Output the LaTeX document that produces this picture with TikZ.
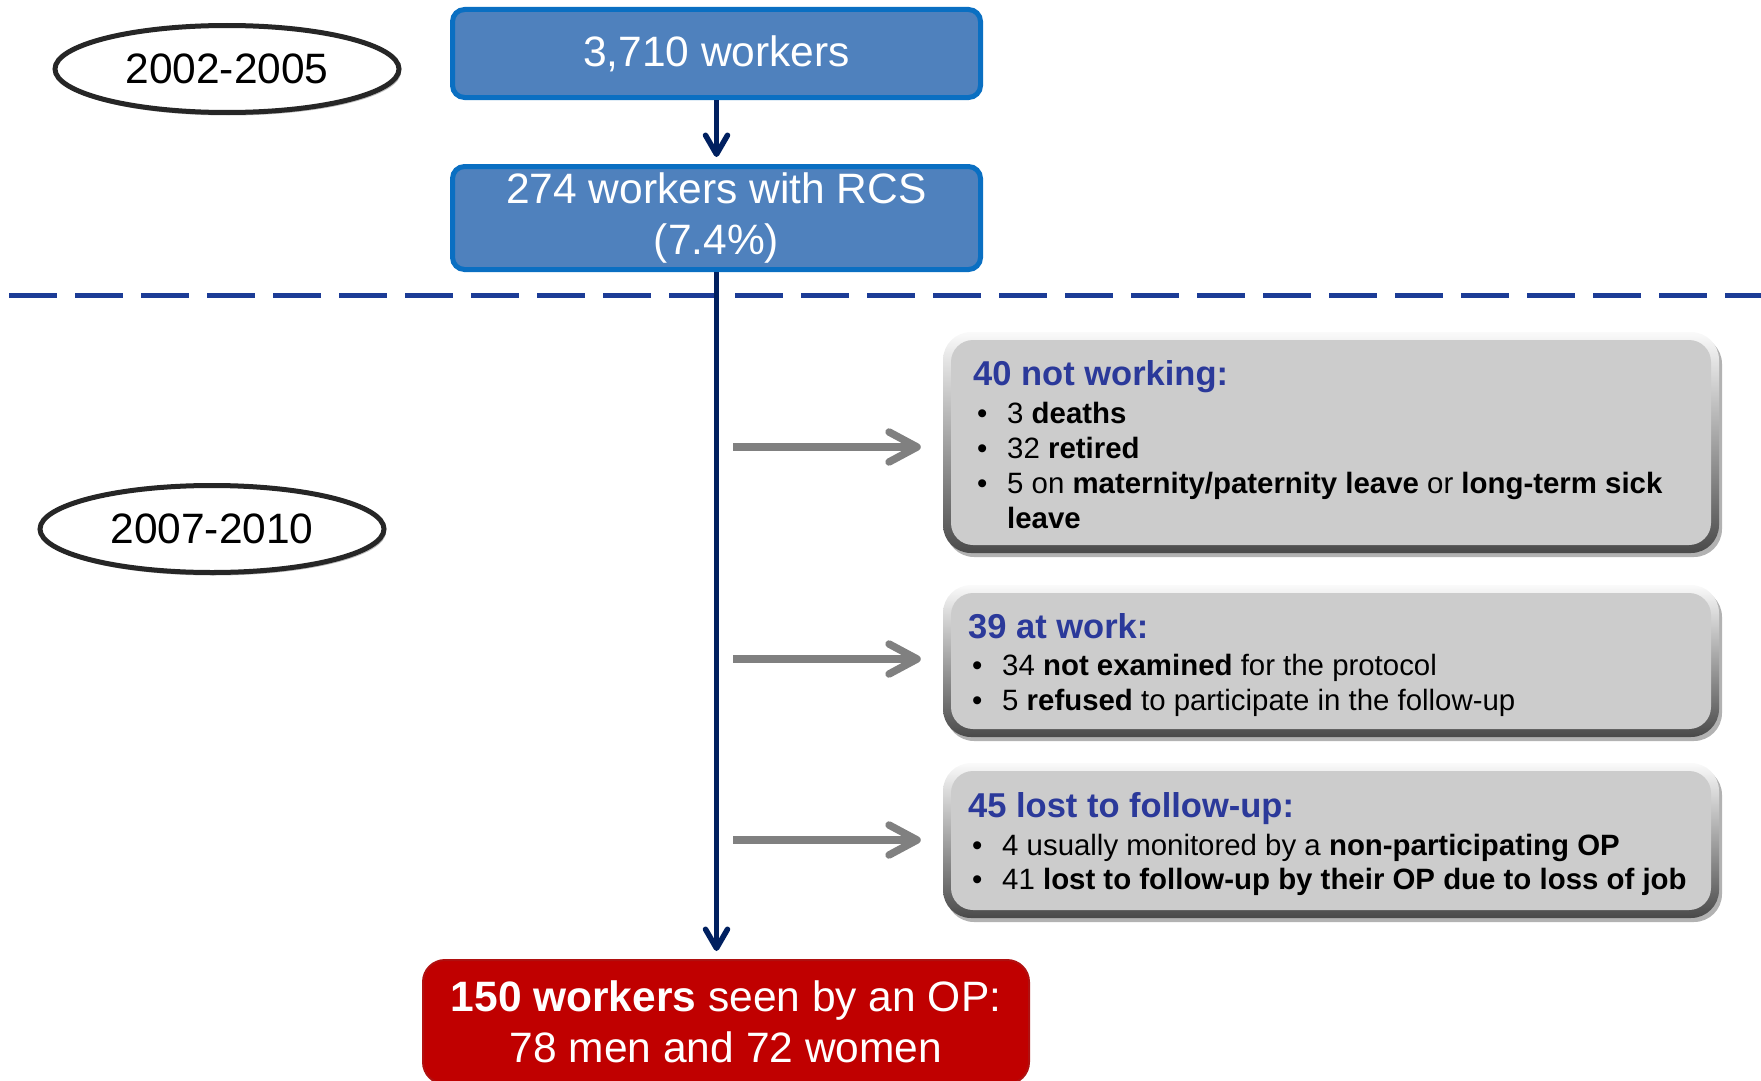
\documentclass[tikz,border=0pt]{standalone}
\usepackage{fontspec}
\setmainfont{Liberation Sans}
\usetikzlibrary{arrows.meta,shapes.geometric,shadows,calc}
\definecolor{blueFill}{HTML}{4F81BD}
\definecolor{blueDraw}{HTML}{0A6FC2}
\definecolor{navy}{HTML}{002060}
\definecolor{dashBlue}{RGB}{28,60,150}
\definecolor{titleBlue}{RGB}{43,57,154}
\definecolor{grayHi}{HTML}{FAFAFA}
\definecolor{grayLo}{HTML}{4A4A4A}
\definecolor{grayFace}{HTML}{CCCCCC}
\definecolor{arrGray}{HTML}{808080}
\definecolor{redFill}{HTML}{C00000}
\definecolor{redDraw}{HTML}{B01010}
\begin{document}
\begin{tikzpicture}[x=1pt,y=-1pt,
  bigfont/.style={font=\fontsize{42.5}{51}\selectfont},
  yearell/.style={ellipse, draw=black!85, line width=5pt, fill=white, minimum width=344pt, minimum height=87pt, inner sep=0pt, bigfont,
    drop shadow={shadow xshift=2pt, shadow yshift=-3pt, fill=black!45, opacity=0.6}},
  bluebox/.style={rectangle, rounded corners=12pt, draw=blueDraw, line width=5pt, fill=blueFill, text=white, minimum width=528pt, inner sep=0pt, align=center, bigfont},
  graybox/.style={rectangle, rounded corners=28pt, top color=grayHi, bottom color=grayLo, minimum width=776pt, inner sep=0pt,
    drop shadow={shadow xshift=3pt, shadow yshift=-4pt, fill=black, opacity=0.3},
    path picture={\fill[grayFace, rounded corners=22pt] ([shift={(8pt,-8pt)}]path picture bounding box.north west) rectangle ([shift={(-8pt,8pt)}]path picture bounding box.south east);}},
  redbox/.style={rectangle, rounded corners=22pt, draw=redDraw, line width=2pt, fill=redFill, text=white, minimum width=606pt, inner sep=0pt, align=center, bigfont},
  gtitle/.style={anchor=base west, inner sep=0pt, text=titleBlue, font=\fontsize{34.5}{40}\selectfont\bfseries},
  gline/.style={anchor=base west, inner sep=0pt, font=\fontsize{29.4}{35}\selectfont},
  navyarr/.style={draw=navy, line width=5.5pt, -{Straight Barb[round, length=19pt, width=22pt]}},
  grayarr/.style={draw=arrGray, line width=7.5pt, -{Straight Barb[round, length=28pt, width=30pt]}},
  dashline/.style={draw=dashBlue, line width=5pt, dash pattern=on 48pt off 18pt}
]
\useasboundingbox (0,0) rectangle (1761,1081);
\clip (0,0) rectangle (1761,1081);

% year ellipses
\node[yearell] (e1) at (227,69) {2002-2005};
\node[yearell] (e2) at (212,529) {2007-2010};

% blue boxes
\node[bluebox, minimum height=88pt] (b1) at (716.5,53.5) {3,710 workers};
\node[bluebox, minimum height=103pt] (b2) at (716.5,218) {274 workers with RCS\\(7.4\%)};

% dashed separator
\coordinate (dl1) at (9,295);
\coordinate (dl2) at (1761,295);
\draw[dashline] (dl1) -- (dl2);

% red result box
\node[redbox, minimum height=124pt] (r) at (726,1022) {\textbf{150 workers} seen by an OP:\\78 men and 72 women};

% navy arrows
\draw[navyarr, shorten >=7pt] (b1.south) -- (b2.north);
\draw[navyarr, shorten >=8pt] (b2.south) -- (b2.south |- r.north);

% gray boxes
\node[graybox, minimum height=221pt] (g1) at (1331,442.5) {};
\node[graybox, minimum height=152pt] (g2) at (1331,661) {};
\node[graybox, minimum height=155pt] (g3) at (1331,840.5) {};

% texts box 1
\node[gtitle] (t1) at (973,385) {40 not working:};
\node[gline] (t1a) at (977,423) {\makebox[30pt][l]{•}3 \textbf{deaths}};
\node[gline] (t1b) at (977,458) {\makebox[30pt][l]{•}32 \textbf{retired}};
\node[gline] (t1c) at (977,493) {\makebox[30pt][l]{•}5 on \textbf{maternity/paternity leave} or \textbf{long-term sick}};
\node[gline] (t1d) at (1007,528) {\textbf{leave}};

% texts box 2
\node[gtitle] (t2) at (968,638) {39 at work:};
\node[gline] (t2a) at (972,675.5) {\makebox[30pt][l]{•}34 \textbf{not examined} for the protocol};
\node[gline] (t2b) at (972,710.5) {\makebox[30pt][l]{•}5 \textbf{refused} to participate in the follow-up};

% texts box 3
\node[gtitle] (t3) at (968,817) {45 lost to follow-up:};
\node[gline] (t3a) at (972,855.5) {\makebox[30pt][l]{•}4 usually monitored by a \textbf{non-participating OP}};
\node[gline] (t3b) at (972,889.5) {\makebox[30pt][l]{•}41 \textbf{lost to follow-up by their OP due to loss of job}};

% gray arrows
\coordinate (a1) at (733,447);
\coordinate (a2) at (733,659);
\coordinate (a3) at (733,840);
\draw[grayarr, shorten >=22pt] (a1) -- (a1 -| g1.west);
\draw[grayarr, shorten >=22pt] (a2) -- (a2 -| g2.west);
\draw[grayarr, shorten >=22pt] (a3) -- (a3 -| g3.west);
\end{tikzpicture}
\end{document}
